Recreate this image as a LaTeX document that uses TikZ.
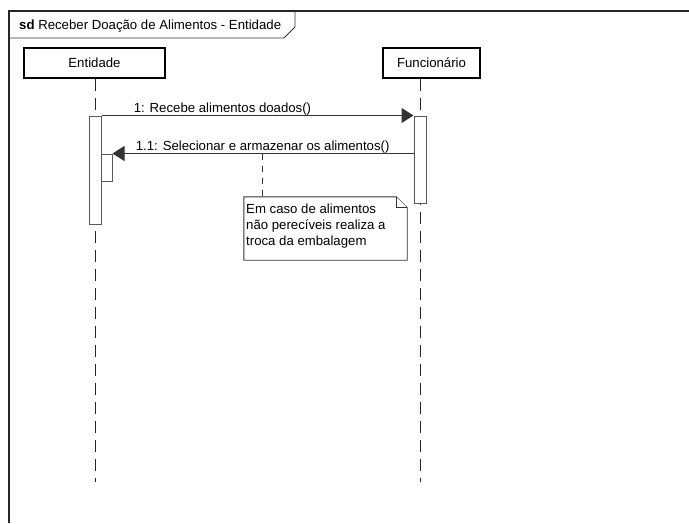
\documentclass[tikz,border=0pt]{standalone}
\usepackage{fontspec}
\setmainfont{Liberation Sans}
\usetikzlibrary{arrows.meta,calc}
\begin{document}
\begin{tikzpicture}[x=1pt,y=-1pt,
  every node/.style={font=\fontsize{13.2}{16}\selectfont},
  frameline/.style={draw=black!85,line width=1.3pt},
  tabline/.style={draw=black!80,line width=0.9pt},
  headbox/.style={draw=black,line width=1.8pt,fill=white,minimum height=30pt,inner sep=0pt},
  lifeline/.style={draw=black!85,line width=1pt,dash pattern=on 12pt off 7pt},
  actbar/.style={draw=black!65,line width=1pt,fill=white,minimum width=12pt,inner sep=0pt},
  msg/.style={draw=black!80,line width=1pt,-{Triangle[length=12pt,width=15pt]}},
  lbl/.style={inner sep=0pt,anchor=base west},
  notebox/.style={minimum width=163pt,minimum height=63pt,inner sep=0pt},
  noteline/.style={draw=black!80,line width=0.9pt,fill=white},
  anchorline/.style={draw=black!80,line width=1pt,dash pattern=on 6pt off 6pt}
]
\useasboundingbox[fill=white] (0,0) rectangle (689,523);

% sequence diagram frame and its name tab
\coordinate (frameBL) at (9,523);
\coordinate (frameTL) at (9,11);
\coordinate (frameTR) at (689,11);
\draw[frameline] (frameBL) -- (frameTL) -- (frameTR);
\coordinate (tabA) at (9,38);
\coordinate (tabB) at (284,38);
\coordinate (tabC) at (295,27);
\coordinate (tabD) at (295,11);
\draw[tabline] (tabA) -- (tabB) -- (tabC) -- (tabD);
\node[lbl] (title) at (19,29.5) {\textbf{sd} Receber Doação de Alimentos - Entidade};

% lifeline heads
\node[headbox,minimum width=141pt] (ent) at (94.5,63) {Entidade};
\node[headbox,minimum width=97pt] (fun) at (431.5,63) {Funcionário};

% lifelines
\coordinate (entEnd) at (95,482);
\coordinate (funEnd) at (420,482);
\draw[lifeline] (ent.south -| entEnd) -- (entEnd);
\draw[lifeline] (fun.south -| funEnd) -- (funEnd);

% activation bars
\node[actbar,minimum height=108pt] (entAct) at (95,170) {};
\node[actbar,minimum width=11pt,minimum height=27pt] (entAct2) at (106.5,167.5) {};
\node[actbar,minimum height=87pt] (funAct) at (420,159.5) {};

% messages
\draw[msg] (entAct.north east) -- (funAct.north west)
  node[lbl,pos=0.102,yshift=3.5pt] (m1) {1: Recebe alimentos doados()};
\draw[msg] (funAct.west |- entAct2.north) -- (entAct2.north east)
  node[lbl,pos=0.924,yshift=3.5pt] (m2) {1.1: Selecionar e armazenar os alimentos()};

% note attached to message 1.1
\node[notebox] (note) at (325.5,228.5) {};
\coordinate (noteAnchor) at (262,154);
\draw[anchorline] (noteAnchor) -- (noteAnchor |- note.north);
\draw[noteline] (note.north west) -- ($(note.north east)+(-11,0)$)
  -- ($(note.north east)+(0,11)$) -- (note.south east) -- (note.south west) -- cycle;
\draw[noteline] ($(note.north east)+(-11,0)$) -- ($(note.north east)+(-11,11)$)
  -- ($(note.north east)+(0,11)$);
\node[inner sep=0pt,anchor=north west,align=left] (notetxt) at (246,203.5)
  {Em caso de alimentos\\não perecíveis realiza a\\troca da embalagem};
\end{tikzpicture}
\end{document}
